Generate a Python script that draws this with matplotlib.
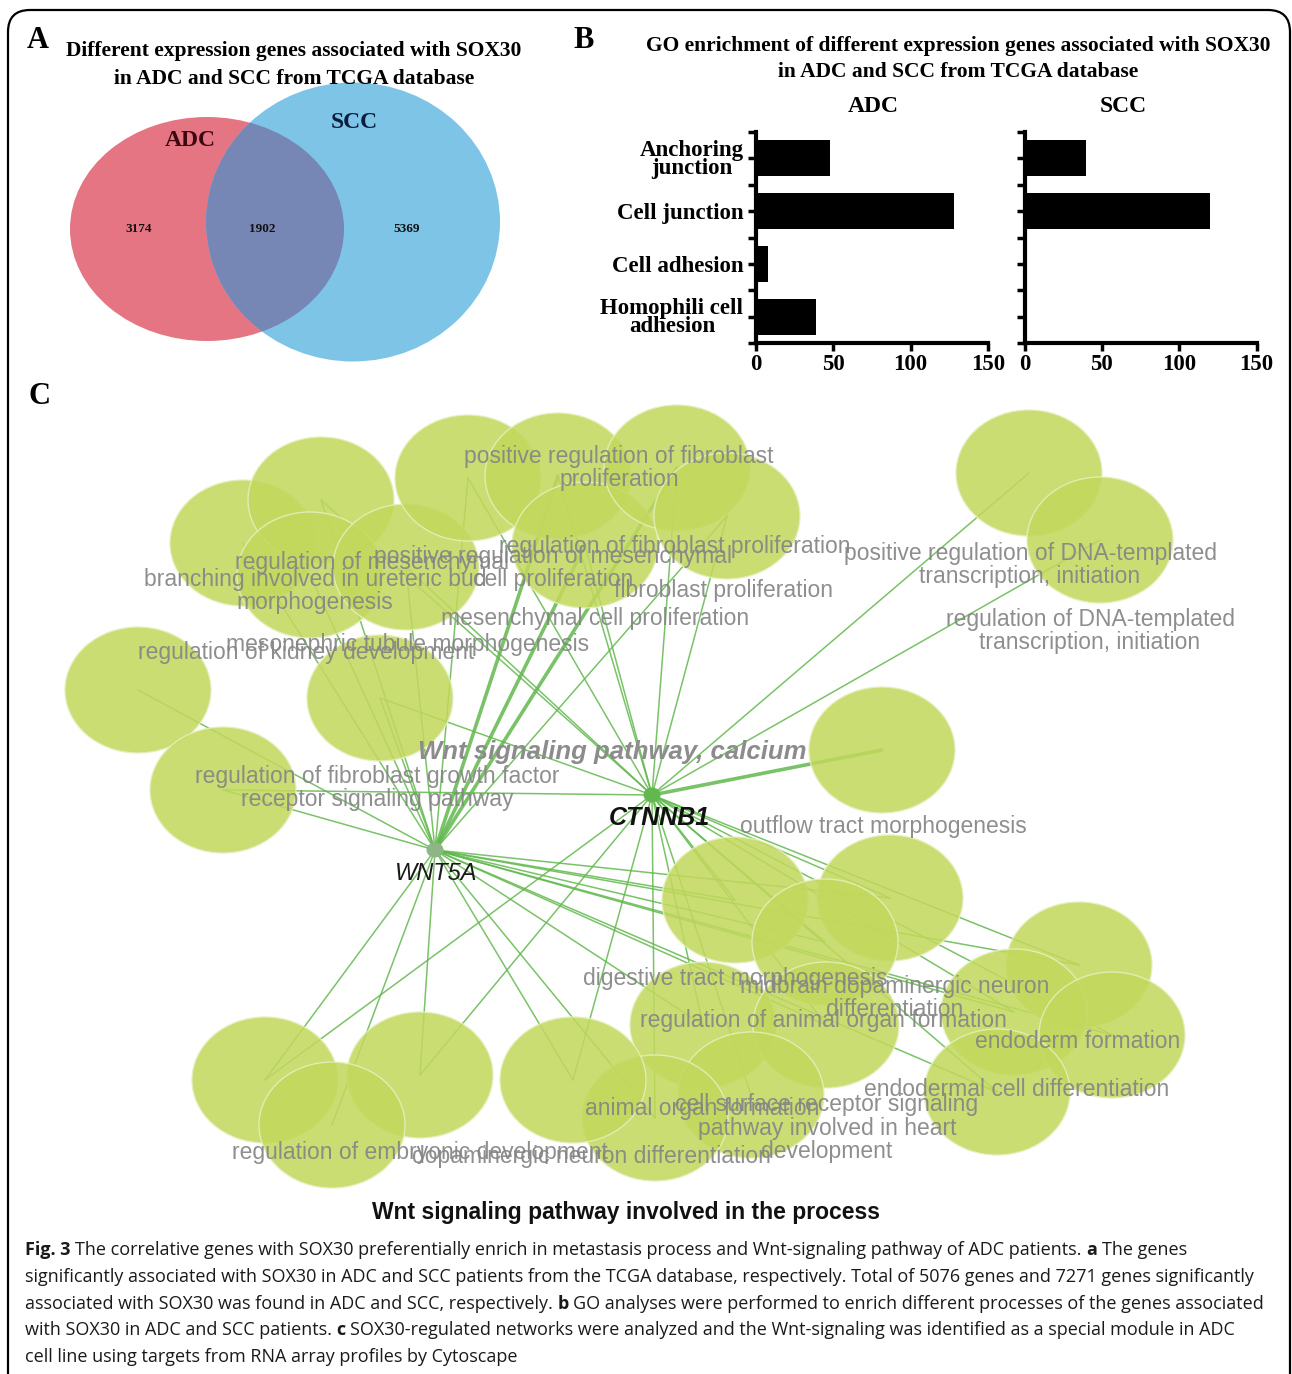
import matplotlib
matplotlib.use('Agg')
import matplotlib.pyplot as plt
from matplotlib.patches import Ellipse, FancyBboxPatch

W, H = 1292, 1374

# ---- panel A: venn counts
venn_sets = ['ADC', 'SCC']
venn_counts = [3174, 1902, 5369]   # ADC only, shared, SCC only

# ---- panel B: GO enrichment
go_terms = ['Anchoring\njunction', 'Cell junction', 'Cell adhesion', 'Homophili cell\nadhesion']
adc_counts = [48, 128, 8, 39]
scc_counts = [40, 120, 0, 0]
count_ticks = [0, 50, 100, 150]

# ---- panel C: network (cytoscape layout, pixel positions)
genes = ['WNT5A', 'CTNNB1']
gene_xy = [(435, 850), (652, 795)]
term_xy = [(243, 543), (321, 500), (310, 575), (406, 567), (468, 478), (558, 476),
           (585, 545), (677, 468), (727, 516), (1029, 473), (1100, 540), (138, 690),
           (223, 790), (380, 698), (882, 750), (735, 900), (890, 898), (825, 942),
           (1079, 965), (1014, 1012), (1112, 1035), (997, 1092), (703, 1025), (826, 1025),
           (751, 1095), (655, 1118), (573, 1080), (265, 1080), (420, 1075), (332, 1125)]
wnt5a_links = [0, 1, 2, 3, 4, 5, 6, 7, 8, 11, 12, 13, 15, 16, 17, 18, 19, 20, 21, 22, 23, 25, 26, 27, 28, 29]
ctnnb1_links = [1, 3, 4, 5, 6, 7, 8, 9, 10, 12, 13, 14, 15, 16, 17, 18, 19, 20, 21, 22, 23, 24, 25, 26, 27, 28]
thick_links = [(0, 5), (0, 6), (0, 7), (1, 14)]

term_labels = [
    ('positive regulation of fibroblast\nproliferation', 619, 468),
    ('regulation of fibroblast proliferation', 675, 546),
    ('positive regulation of mesenchymal\ncell proliferation', 553, 568),
    ('regulation of mesenchymal', 372, 563),
    ('fibroblast proliferation', 723, 591),
    ('mesenchymal cell proliferation', 595, 619),
    ('branching involved in ureteric bud\nmorphogenesis', 315, 591),
    ('mesonephric tubule morphogenesis', 408, 645),
    ('regulation of kidney development', 306, 652),
    ('regulation of fibroblast growth factor\nreceptor signaling pathway', 377, 788),
    ('outflow tract morphogenesis', 883, 827),
    ('positive regulation of DNA-templated\ntranscription, initiation', 1030, 565),
    ('regulation of DNA-templated\ntranscription, initiation', 1090, 631),
    ('digestive tract morphogenesis', 735, 978),
    ('midbrain dopaminergic neuron\ndifferentiation', 895, 998),
    ('regulation of animal organ formation', 823, 1020),
    ('endoderm formation', 1078, 1041),
    ('endodermal cell differentiation', 1017, 1089),
    ('cell surface receptor signaling\npathway involved in heart\ndevelopment', 827, 1128),
    ('animal organ formation', 702, 1108),
    ('regulation of embryonic development', 420, 1153),
    ('dopaminergic neuron differentiation', 591, 1157),
]

caption = [
    [('Fig. 3', True), ('The correlative genes with SOX30 preferentially enrich in metastasis process and Wnt-signaling pathway of ADC patients.', False), ('a', True), ('The genes', False)],
    [('significantly associated with SOX30 in ADC and SCC patients from the TCGA database, respectively. Total of 5076 genes and 7271 genes significantly', False)],
    [('associated with SOX30 was found in ADC and SCC, respectively.', False), ('b', True), ('GO analyses were performed to enrich different processes of the genes associated', False)],
    [('with SOX30 in ADC and SCC patients.', False), ('c', True), ('SOX30-regulated networks were analyzed and the Wnt-signaling was identified as a special module in ADC', False)],
    [('cell line using targets from RNA array profiles by Cytoscape', False)],
]

SERIF = 'Liberation Serif'
SANS = 'Liberation Sans'
CAP = ['Liberation Sans Narrow', 'Open Sans', 'DejaVu Sans']

fig = plt.figure(figsize=(W / 100, H / 100), dpi=100)
ax = fig.add_axes([0, 0, 1, 1])
ax.set_xlim(0, W)
ax.set_ylim(H, 0)
ax.axis('off')

# border
ax.add_patch(FancyBboxPatch((8, 10), 1282, 1420, boxstyle='round,pad=0,rounding_size=22',
                            fc='none', ec='black', lw=1.6, clip_on=False))

# panel letters
for letter, x, y in [('A', 38, 40), ('B', 584, 40), ('C', 39, 397)]:
    ax.text(x, y, letter, family=SERIF, weight='bold', fontsize=22, ha='center', va='center')

# ---- A
ax.text(294, 65, 'Different expression genes associated with SOX30\nin ADC and SCC from TCGA database',
        family=SERIF, weight='bold', fontsize=15.5, ha='center', va='center', linespacing=1.5)
red = Ellipse((207, 229), 274, 224, fc='#e67584', ec='none', zorder=2)
blue = Ellipse((353, 222), 294, 279, fc='#7ec4e7', ec='none', zorder=2)
both = Ellipse((207, 229), 274, 224, fc='#7687b5', ec='none', zorder=3)
ax.add_patch(red)
ax.add_patch(blue)
ax.add_patch(both)
both.set_clip_path(blue)
ax.text(190, 140, venn_sets[0], family=SERIF, weight='bold', fontsize=17, color='#3d0710',
        ha='center', va='center', zorder=4)
ax.text(354, 122, venn_sets[1], family=SERIF, weight='bold', fontsize=17, color='#0b1d3d',
        ha='center', va='center', zorder=4)
for cnt, x in zip(venn_counts, [139, 262, 407]):
    ax.text(x, 229, str(cnt), family=SERIF, weight='bold', fontsize=9.5, color='#111',
            ha='center', va='center', zorder=4)

# ---- B
ax.text(958, 59, 'GO enrichment of different expression genes associated with SOX30\nin ADC and SCC from TCGA database',
        family=SERIF, weight='bold', fontsize=15.5, ha='center', va='center', linespacing=1.35)


def bar_axes(left, counts, title, title_x, labels):
    b = fig.add_axes([left / W, (H - 343) / H, 232 / W, 211 / H])
    b.set_facecolor('none')
    y = list(range(len(go_terms)))
    b.barh(y, counts, height=0.68, color='black')
    b.set_xlim(0, 150)
    b.set_ylim(len(go_terms) - 0.5, -0.5)
    b.set_xticks(count_ticks)
    b.set_xticklabels([str(t) for t in count_ticks], family=SERIF, weight='bold', fontsize=16.5)
    b.set_yticks(y)
    b.set_yticks([v - 0.5 for v in range(len(go_terms) + 1)], minor=True)
    if labels:
        b.set_yticklabels(go_terms, family=SERIF, weight='bold', fontsize=16.5, linespacing=0.8)
        for t in b.get_yticklabels():
            t.set_multialignment('center')
    else:
        b.set_yticklabels([])
    for s in ['top', 'right']:
        b.spines[s].set_visible(False)
    for s in ['left', 'bottom']:
        b.spines[s].set_linewidth(3)
    b.tick_params(axis='both', which='both', direction='out', length=6, width=2.5, pad=3)
    b.tick_params(axis='x', pad=2)
    ax.text(title_x, 106, title, family=SERIF, weight='bold', fontsize=17, ha='center', va='center')
    return b


bar_axes(756, adc_counts, 'ADC', 873, True)
bar_axes(1024.5, scc_counts, 'SCC', 1123, False)

# ---- C
edge_c = '#62b84e'
for gi, links in enumerate([wnt5a_links, ctnnb1_links]):
    gx, gy = gene_xy[gi]
    for ni in links:
        tx, ty = term_xy[ni]
        lw = 2.6 if (gi, ni) in thick_links else 1.1
        ax.plot([gx, tx], [gy, ty], color=edge_c, lw=lw, alpha=0.85, zorder=5,
                solid_capstyle='round')

for (x, y) in term_xy:
    ax.add_patch(Ellipse((x, y), 146, 126, fc='#c2d85c', ec='#e6efbf', lw=1.0,
                         alpha=0.86, zorder=6))

for (txt, x, y) in term_labels:
    ax.text(x, y, txt, family=SANS, fontsize=16.5, color='#858585', alpha=0.92,
            ha='center', va='center', multialignment='center', linespacing=1.05, zorder=7)

ax.text(612, 752, 'Wnt signaling pathway, calcium', family=SANS, fontsize=18.5, weight='bold',
        style='italic', color='#8c8c8c', ha='center', va='center', zorder=7)

for gcol, (gx, gy) in zip(['#8fb487', '#62b84e'], gene_xy):
    ax.add_patch(Ellipse((gx, gy), 17, 15, fc=gcol, ec='none', zorder=8))
ax.text(436, 873, genes[0], family=SANS, fontsize=17, style='italic', color='#1a1a1a',
        ha='center', va='center', zorder=9)
ax.text(659, 818, genes[1], family=SANS, fontsize=18, style='italic', weight='bold',
        color='#111', ha='center', va='center', zorder=9)

ax.text(626, 1212, 'Wnt signaling pathway involved in the process', family=SANS, fontsize=16.5,
        weight='bold', color='#111', ha='center', va='center', zorder=9)

# ---- caption
rend = fig.canvas.get_renderer()


def text_w(s, size, bold=False):
    t = ax.text(0, 0, s, family=CAP, fontsize=size, weight='bold' if bold else 'normal')
    w = t.get_window_extent(renderer=rend).width
    t.remove()
    return w


ref = text_w(caption[1][0][0], 10)
cap_size = 10 * 1232 / ref
space = text_w('x x', cap_size) - text_w('xx', cap_size)
for line, y in zip(caption, [1250, 1277, 1304, 1330, 1357]):
    x = 25
    for k, (txt, bold) in enumerate(line):
        if k:
            x += space
        t = ax.text(x, y, txt, family=CAP, fontsize=cap_size, weight='bold' if bold else 'normal',
                    color='#1a1a1a', ha='left', va='center')
        x += t.get_window_extent(renderer=rend).width

fig.savefig('out.png', dpi=100)
